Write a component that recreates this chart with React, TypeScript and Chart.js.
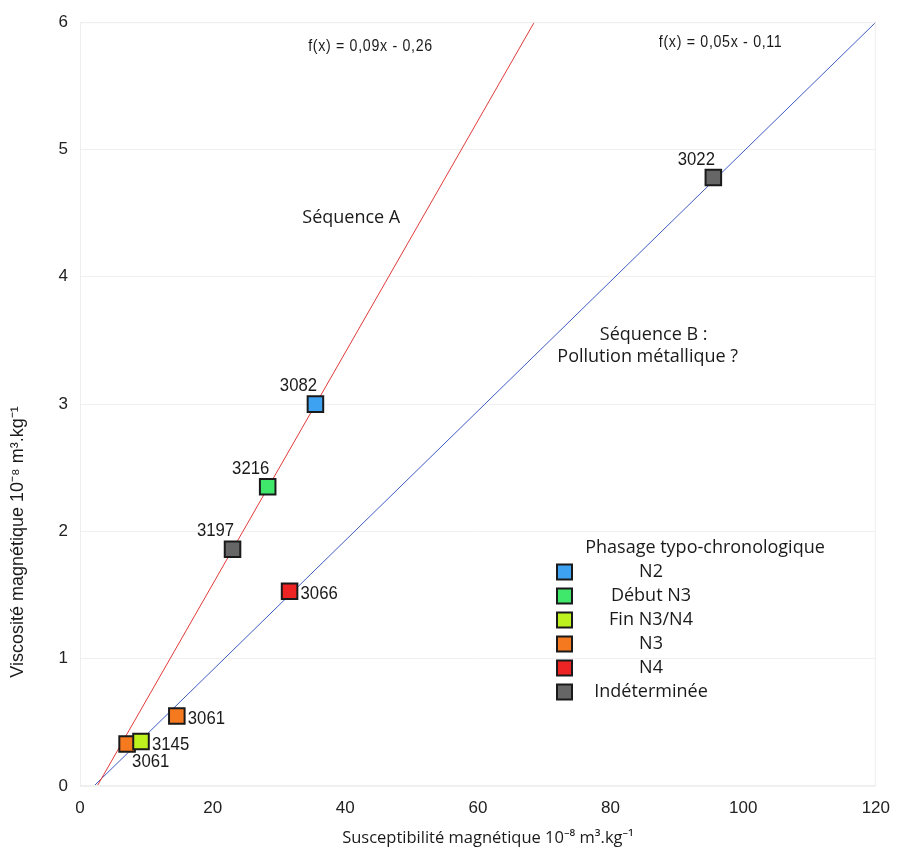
import React, { useEffect, useRef } from "react";
import { Chart, registerables } from "chart.js";

Chart.register(...registerables);

// ---- data ----
const phases = ["N2", "Début N3", "Fin N3/N4", "N3", "N4", "Indéterminée"];
const phaseColors = ["#3ea2f2", "#3fe86a", "#bdf21e", "#f5791f", "#ee2424", "#666666"];

const sampleIds = ["3022", "3082", "3216", "3197", "3066", "3061", "3145", "3061"];
const susceptibility = [95.5, 35.5, 28.3, 23.0, 31.6, 14.6, 9.2, 7.1];
const viscosity = [4.78, 3.0, 2.35, 1.86, 1.53, 0.55, 0.35, 0.33];
const samplePhase = ["Indéterminée", "N2", "Début N3", "Indéterminée", "N4", "N3", "Fin N3/N4", "N3"];
const labelPlacement = ["above", "above", "above", "above", "right", "right", "right", "below"];

const seqA_x = [2.6, 68.5];
const seqA_y = [0, 6];
const seqB_x = [2.1, 120];
const seqB_y = [0, 6];

const xTicks = [0, 20, 40, 60, 80, 100, 120];
const yTicks = [0, 1, 2, 3, 4, 5, 6];

const eqA = "f(x) = 0,09x - 0,26";
const eqB = "f(x) = 0,05x - 0,11";
const xTitle = "Susceptibilité magnétique 10⁻⁸ m³.kg⁻¹";
const yTitle = "Viscosité magnétique 10⁻⁸ m³.kg⁻¹";
const legendTitle = "Phasage typo-chronologique";

const HUM = "'Open Sans', 'Noto Sans', sans-serif";
const ARIAL = "'Liberation Sans', Arial, sans-serif";

function narrowText(ctx: any, text: string, x: number, y: number, align: string, size: number, sx: number, rot = 0, spacing = 0) {
  ctx.save();
  ctx.font = `${size}px ${ARIAL}`;
  ctx.letterSpacing = `${spacing}px`;
  ctx.translate(x, y);
  if (rot) ctx.rotate(rot);
  ctx.scale(sx, 1);
  ctx.textAlign = align;
  ctx.textBaseline = "middle";
  ctx.fillText(text, 0, 0);
  ctx.restore();
}

const overlayPlugin = {
  id: "overlay",
  afterDatasetsDraw(chart: any) {
    const ctx = chart.ctx;
    const xs = chart.scales.x;
    const ys = chart.scales.y;
    const ca = chart.chartArea;
    ctx.save();
    ctx.fillStyle = "#1a1a1a";
    ctx.textBaseline = "middle";

    // point labels
    sampleIds.forEach((id, i) => {
      const px = xs.getPixelForValue(susceptibility[i]);
      const py = ys.getPixelForValue(viscosity[i]);
      const p = labelPlacement[i];
      if (p === "above") {
        narrowText(ctx, id, px - 17, py - 18, "center", 19, 0.88);
      } else if (p === "right") {
        narrowText(ctx, id, px + 11, py + 3, "left", 19, 0.88);
      } else {
        narrowText(ctx, id, px + 5, py + 18, "left", 19, 0.88);
      }
    });

    // equations
    narrowText(ctx, eqA, xs.getPixelForValue(43.8), ys.getPixelForValue(5.81), "center", 16.5, 0.86, 0, 0.8);
    narrowText(ctx, eqB, xs.getPixelForValue(96.6), ys.getPixelForValue(5.84), "center", 16.5, 0.86, 0, 0.8);

    // sequence labels
    ctx.font = `18px ${HUM}`;
    ctx.textAlign = "center";
    ctx.fillText("Séquence A", xs.getPixelForValue(40.9), ys.getPixelForValue(4.46));
    ctx.fillText("Séquence B :", xs.getPixelForValue(86.5), ys.getPixelForValue(3.54));
    ctx.fillText("Pollution métallique ?", xs.getPixelForValue(85.6), ys.getPixelForValue(3.37));

    // legend
    ctx.fillText(legendTitle, 705, 548);
    const rowY = [572, 596, 620, 644, 668, 692];
    phases.forEach((ph, i) => {
      const y = rowY[i];
      ctx.fillStyle = phaseColors[i];
      ctx.fillRect(557, y - 7.5, 15, 15);
      ctx.strokeStyle = "#1a1a1a";
      ctx.lineWidth = 2;
      ctx.strokeRect(557, y - 7.5, 15, 15);
      ctx.fillStyle = "#1a1a1a";
      ctx.textAlign = "center";
      ctx.fillText(ph, 651, y);
    });

    // axis titles
    ctx.font = `16.5px ${HUM}`;
    ctx.textAlign = "center";
    ctx.fillText(xTitle, 488, 838);
    ctx.font = `18px ${ARIAL}`;
    const w = ctx.measureText(yTitle).width;
    narrowText(ctx, yTitle, 18, 542, "center", 18, Math.min(1, 297 / w), -Math.PI / 2);

    // faint frame
    ctx.strokeStyle = "#eeeeee";
    ctx.lineWidth = 1;
    ctx.strokeRect(ca.left + 0.5, ca.top + 0.5, ca.right - ca.left - 1, ca.bottom - ca.top - 1);
    ctx.restore();
  },
};

export default function App() {
  const ref = useRef<HTMLCanvasElement>(null);
  useEffect(() => {
    if (!ref.current) return;
    const pointSets = phases.map((ph, pi) => {
      const data: { x: number; y: number }[] = [];
      samplePhase.forEach((sp, i) => {
        if (sp === ph) data.push({ x: susceptibility[i], y: viscosity[i] });
      });
      return {
        type: "scatter" as const,
        label: ph,
        data,
        pointStyle: "rect",
        pointRadius: 11,
        pointHoverRadius: 11,
        backgroundColor: phaseColors[pi],
        borderColor: "#1a1a1a",
        borderWidth: 2,
        order: 0,
      };
    });
    const chart = new Chart(ref.current, {
      type: "scatter",
      data: {
        datasets: [
          ...pointSets,
          {
            type: "line" as const,
            label: "Séquence A",
            data: seqA_x.map((x, i) => ({ x, y: seqA_y[i] })),
            borderColor: "#e03a3a",
            borderWidth: 1,
            pointRadius: 0,
            showLine: true,
            fill: false,
            order: 5,
          },
          {
            type: "line" as const,
            label: "Séquence B",
            data: seqB_x.map((x, i) => ({ x, y: seqB_y[i] })),
            borderColor: "#3f5bc4",
            borderWidth: 1,
            pointRadius: 0,
            showLine: true,
            fill: false,
            order: 5,
          },
        ] as any,
      },
      options: {
        animation: false,
        responsive: false,
        maintainAspectRatio: false,
        layout: { padding: { left: 0, right: 22, top: 22, bottom: 0 } },
        plugins: { legend: { display: false }, tooltip: { enabled: false } },
        scales: {
          x: {
            type: "linear",
            min: 0,
            max: 120,
            afterBuildTicks: (s: any) => {
              s.ticks = xTicks.map((v) => ({ value: v }));
            },
            afterFit: (s: any) => {
              s.height = 66;
            },
            grid: { display: false, drawTicks: false },
            border: { display: false },
            ticks: {
              padding: 12,
              color: "#222",
              font: { family: ARIAL, size: 17 },
            },
          },
          y: {
            type: "linear",
            min: 0,
            max: 6,
            afterBuildTicks: (s: any) => {
              s.ticks = yTicks.map((v) => ({ value: v }));
            },
            afterFit: (s: any) => {
              s.width = 80;
            },
            grid: { color: "#f0f0f0", drawTicks: false },
            border: { display: false },
            ticks: {
              padding: 12,
              color: "#222",
              font: { family: ARIAL, size: 17 },
            },
          },
        },
      },
      plugins: [overlayPlugin],
    });
    return () => chart.destroy();
  }, []);
  return (
    <div style={{ position: "fixed", left: 0, top: 0, width: 902, height: 852, background: "#fff" }}>
      <canvas ref={ref} width={902} height={852} style={{ width: 902, height: 852 }} />
    </div>
  );
}
